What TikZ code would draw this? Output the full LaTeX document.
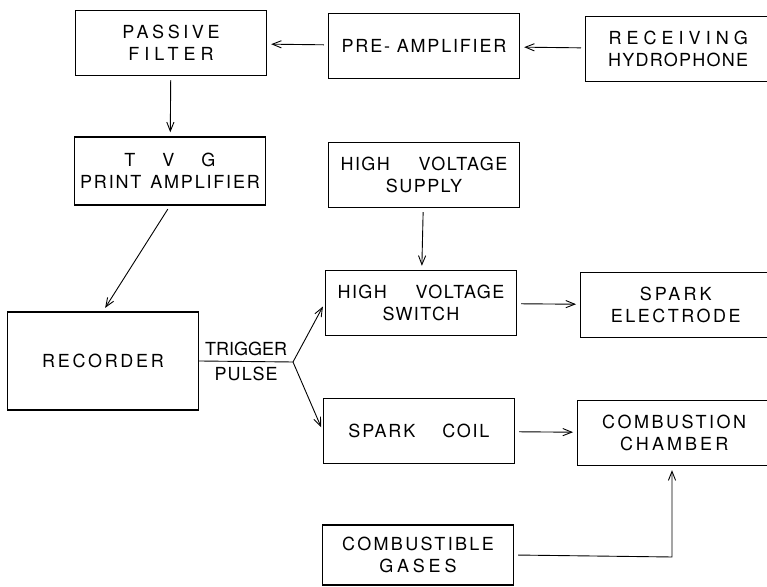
\documentclass[tikz,border=0pt]{standalone}
\usepackage{fontspec}
\setmainfont{TeX Gyre Heros}
\usetikzlibrary{arrows.meta}
\newcommand{\spaced}[2]{{\addfontfeature{LetterSpace=#1}#2}}

\tikzset{
  blockbox/.style={draw, line width=0.7pt, minimum width=95.5pt, minimum height=32.5pt,
                   align=center, inner sep=2pt, font=\fontsize{9}{11}\selectfont},
  flow/.style={line width=0.45pt, -{Straight Barb[length=4.5pt,width=3.6pt]},
               shorten >=2pt, shorten <=2pt},
  tag/.style={font=\fontsize{9}{11}\selectfont, inner sep=2.5pt},
}

\begin{document}
\begin{tikzpicture}[x=0.5pt, y=-0.5pt]
  \clip (0,0) rectangle (767,587);

  % receiving chain
  \node[blockbox] (filter) at (171,43) {\spaced{20}{PASSIVE}\\\spaced{28}{FILTER}};
  \node[blockbox] (preamp) at (424,46) {\spaced{10}{PRE- AMPLIFIER}};
  \node[blockbox, minimum width=92.5pt, anchor=west] (hydro) at (585,49)
    {\spaced{28}{RECEIVING}\\\spaced{7}{HYDROPHONE}};
  \node[blockbox, minimum height=34pt] (tvg) at (170,171)
    {T\hspace{1.5em}V\hspace{1.5em}G\\\spaced{10}{PRINT\hspace{0.5em}AMPLIFIER}};
  \node[blockbox, minimum height=49pt] (recorder) at (103,361) {\spaced{15}{RECORDER}};

  % spark source
  \node[blockbox] (hvsupply) at (424,175) {\spaced{8}{HIGH\hspace{1.6em}VOLTAGE}\\\spaced{8}{SUPPLY}};
  \node[blockbox] (hvswitch) at (421,303) {\spaced{8}{HIGH\hspace{1.6em}VOLTAGE}\\\spaced{8}{SWITCH}};
  \node[blockbox, minimum width=95pt, anchor=west] (electrode) at (580,305)
    {\spaced{17}{SPARK}\\\spaced{14}{ELECTRODE}};
  \node[blockbox] (coil) at (419,431) {\spaced{10}{SPARK\hspace{1.5em}COIL}};
  \node[blockbox, minimum width=96.5pt, anchor=west] (chamber) at (577,433)
    {\spaced{14}{COMBUSTION}\\\spaced{17}{CHAMBER}};
  \node[blockbox, minimum height=30pt] (gases) at (418,555)
    {\spaced{13}{COMBUSTIBLE}\\\spaced{21}{GASES}};

  \coordinate (branch) at (293,362);
  \coordinate (gasturn) at (672,557);

  \draw[flow] (hydro) -- (preamp);
  \draw[flow] (preamp) -- (filter);
  \draw[flow] (filter) -- (tvg);
  \draw[flow] (tvg.south) -- (recorder.north);
  \draw[line width=0.45pt] (recorder.east) -- node[tag, above] (trigtag) {TRIGGER}
    node[tag, below] (pulsetag) {\spaced{6}{PULSE}} (branch);
  \draw[flow, shorten <=0pt] (branch) -- (hvswitch.west);
  \draw[flow, shorten <=0pt] (branch) -- (coil.west);
  \draw[flow] (hvsupply) -- (hvswitch);
  \draw[flow] (hvswitch) -- (electrode);
  \draw[flow] (coil) -- (chamber);
  \draw[flow] (gases.east) -- (gasturn) -- (gasturn |- chamber.south);
\end{tikzpicture}
\end{document}
